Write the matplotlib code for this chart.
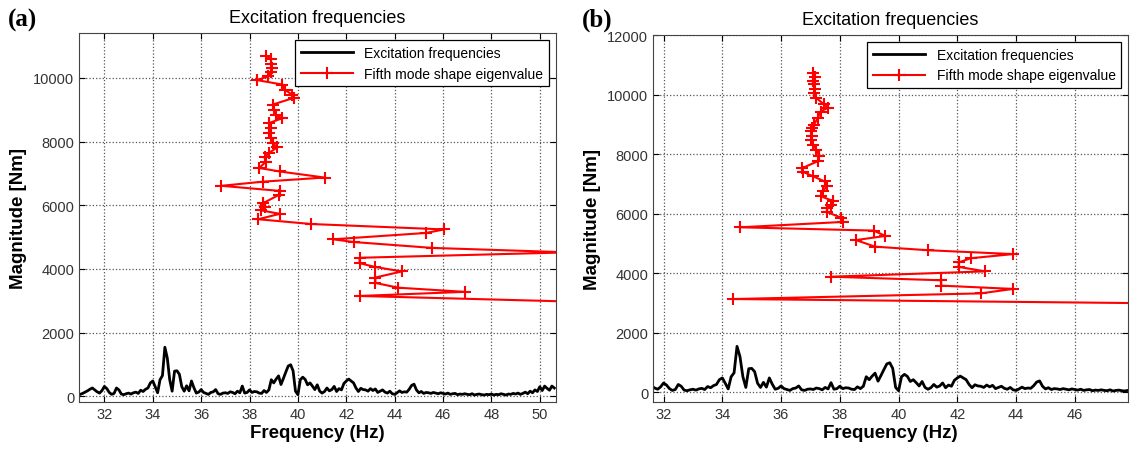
import matplotlib
matplotlib.use('Agg')
import matplotlib.pyplot as plt

plt.rcParams['font.family'] = ['Liberation Sans', 'DejaVu Sans']

# excitation spectrum, sampled every 0.1 Hz from 31.0 to 50.6 Hz
freq = [31.0, 31.1, 31.2, 31.3, 31.4, 31.5, 31.6, 31.7, 31.8, 31.9,
        32.0, 32.1, 32.2, 32.3, 32.4, 32.5, 32.6, 32.7, 32.8, 32.9,
        33.0, 33.1, 33.2, 33.3, 33.4, 33.5, 33.6, 33.7, 33.8, 33.9,
        34.0, 34.1, 34.2, 34.3, 34.4, 34.5, 34.6, 34.7, 34.8, 34.9,
        35.0, 35.1, 35.2, 35.3, 35.4, 35.5, 35.6, 35.7, 35.8, 35.9,
        36.0, 36.1, 36.2, 36.3, 36.4, 36.5, 36.6, 36.7, 36.8, 36.9,
        37.0, 37.1, 37.2, 37.3, 37.4, 37.5, 37.6, 37.7, 37.8, 37.9,
        38.0, 38.1, 38.2, 38.3, 38.4, 38.5, 38.6, 38.7, 38.8, 38.9,
        39.0, 39.1, 39.2, 39.3, 39.4, 39.5, 39.6, 39.7, 39.8, 39.9,
        40.0, 40.1, 40.2, 40.3, 40.4, 40.5, 40.6, 40.7, 40.8, 40.9,
        41.0, 41.1, 41.2, 41.3, 41.4, 41.5, 41.6, 41.7, 41.8, 41.9,
        42.0, 42.1, 42.2, 42.3, 42.4, 42.5, 42.6, 42.7, 42.8, 42.9,
        43.0, 43.1, 43.2, 43.3, 43.4, 43.5, 43.6, 43.7, 43.8, 43.9,
        44.0, 44.1, 44.2, 44.3, 44.4, 44.5, 44.6, 44.7, 44.8, 44.9,
        45.0, 45.1, 45.2, 45.3, 45.4, 45.5, 45.6, 45.7, 45.8, 45.9,
        46.0, 46.1, 46.2, 46.3, 46.4, 46.5, 46.6, 46.7, 46.8, 46.9,
        47.0, 47.1, 47.2, 47.3, 47.4, 47.5, 47.6, 47.7, 47.8, 47.9,
        48.0, 48.1, 48.2, 48.3, 48.4, 48.5, 48.6, 48.7, 48.8, 48.9,
        49.0, 49.1, 49.2, 49.3, 49.4, 49.5, 49.6, 49.7, 49.8, 49.9,
        50.0, 50.1, 50.2, 50.3, 50.4, 50.5, 50.6]
excitation = [60, 90, 130, 170, 220, 260, 200, 140, 100, 180,
              310, 240, 120, 60, 90, 260, 200, 70, 50, 80,
              100, 70, 110, 130, 90, 190, 150, 220, 260, 420,
              480, 300, 110, 520, 650, 1540, 1200, 520, 160, 790,
              800, 690, 300, 160, 330, 170, 480, 270, 100, 130,
              210, 120, 90, 60, 120, 140, 210, 80, 60, 100,
              110, 90, 140, 120, 80, 160, 110, 320, 100, 120,
              200, 120, 150, 140, 100, 90, 180, 120, 200, 520,
              420, 540, 640, 370, 560, 760, 950, 990, 800, 160,
              50, 520, 600, 530, 360, 420, 320, 210, 360, 160,
              100, 150, 260, 170, 210, 310, 150, 240, 200, 400,
              480, 540, 480, 420, 260, 150, 250, 210, 200, 160,
              240, 180, 230, 120, 160, 200, 130, 100, 160, 80,
              60, 110, 170, 120, 140, 130, 220, 340, 380, 200,
              110, 150, 90, 120, 110, 90, 120, 100, 80, 110,
              90, 70, 100, 60, 80, 90, 50, 70, 60, 80,
              60, 50, 80, 40, 60, 70, 50, 40, 60, 50,
              70, 40, 60, 50, 80, 60, 40, 70, 60, 90,
              70, 100, 60, 90, 130, 80, 160, 110, 200, 150,
              300, 180, 320, 250, 190, 320, 260]

# fifth mode eigenvalue track, case (a)
eig_freq_a = [38.70, 38.88, 38.90, 38.93, 38.88, 38.78, 38.31, 39.36, 39.45, 39.77,
              39.82, 38.95, 39.02, 39.09, 39.35, 38.80, 38.90, 38.82, 38.90, 38.95,
              39.15, 38.80, 38.62, 38.68, 38.40, 39.25, 41.10, 38.55, 36.84, 39.25,
              39.20, 38.55, 38.62, 38.48, 39.25, 38.36, 40.55, 46.05, 45.30, 41.45,
              42.30, 45.55, 51.20, 42.55, 42.55, 43.20, 44.30, 43.20, 43.20, 44.15,
              46.90, 42.55, 52.50]
eig_mag_a = [10690, 10580, 10450, 10310, 10180, 10050, 9930, 9790, 9630, 9470,
             9370, 9160, 9000, 8840, 8730, 8580, 8420, 8260, 8110, 7950,
             7820, 7640, 7500, 7370, 7170, 7060, 6870, 6740, 6610, 6450,
             6320, 6060, 5950, 5840, 5730, 5560, 5410, 5240, 5130, 4930,
             4845, 4660, 4520, 4350, 4180, 4060, 3920, 3730, 3560, 3410,
             3280, 3150, 2950]

# fifth mode eigenvalue track, case (b)
eig_freq_b = [37.10, 37.15, 37.08, 37.12, 37.15, 37.12, 37.18, 37.45, 37.60, 37.35,
              37.25, 37.12, 37.05, 37.02, 37.05, 37.02, 37.08, 37.20, 37.30, 37.25,
              36.70, 36.75, 37.10, 37.48, 37.55, 37.42, 37.36, 37.78, 37.70, 37.58,
              37.55, 38.05, 38.10, 34.60, 39.15, 39.55, 38.55, 39.20, 41.00, 43.90,
              42.45, 42.05, 42.05, 42.95, 37.70, 41.45, 41.45, 43.90, 42.80, 34.38,
              52.50]
eig_mag_b = [10730, 10600, 10470, 10340, 10200, 10060, 9900, 9680, 9560, 9430,
             9210, 8990, 8860, 8760, 8600, 8480, 8310, 8150, 7920, 7760,
             7520, 7400, 7250, 7080, 6920, 6750, 6580, 6420, 6300, 6180,
             6060, 5860, 5720, 5540, 5430, 5250, 5110, 4890, 4770, 4640,
             4500, 4360, 4210, 4060, 3880, 3760, 3580, 3470, 3320, 3130,
             2950]

panels = [
    ('(a)', [79 / 1131, 0.1077, 477 / 1131, 0.8164], eig_freq_a, eig_mag_a,
     (30.95, 50.67), (-190, 11400), [32, 34, 36, 38, 40, 42, 44, 46, 48, 50],
     [0, 2000, 4000, 6000, 8000, 10000]),
    ('(b)', [653 / 1131, 0.1077, 475 / 1131, 0.8126], eig_freq_b, eig_mag_b,
     (31.64, 47.81), (-340, 12000), [32, 34, 36, 38, 40, 42, 44, 46],
     [0, 2000, 4000, 6000, 8000, 10000, 12000]),
]

fig = plt.figure(figsize=(11.31, 4.52), dpi=100)

for tag, rect, ef, em, xl, yl, xt, yt in panels:
    ax = fig.add_axes(rect)
    ax.plot(freq, excitation, color='black', lw=2.0, label='Excitation frequencies')
    ax.plot(ef, em, color='red', lw=1.5, marker='+', ms=9, mew=1.5,
            label='Fifth mode shape eigenvalue')
    ax.set_xlim(xl)
    ax.set_ylim(yl)
    ax.set_xticks(xt)
    ax.set_yticks(yt)
    ax.grid(True, linestyle=':', color='#555555', lw=0.9)
    ax.tick_params(direction='in', top=True, right=True, labelsize=10.5,
                   labelcolor='#333333', length=4)
    for s in ax.spines.values():
        s.set_color('#444444')
    ax.set_title('Excitation frequencies', fontsize=13, pad=8)
    ax.set_xlabel('Frequency (Hz)', fontsize=13.5, fontweight='bold', labelpad=2)
    ax.set_ylabel('Magnitude [Nm]', fontsize=13.5, fontweight='bold', labelpad=4)
    leg = ax.legend(loc='upper right', fontsize=10, fancybox=False, edgecolor='black',
                    handlelength=3.8, borderaxespad=0.5, framealpha=1)
    leg.get_frame().set_linewidth(0.9)
    fig.text(rect[0] - 0.063, 0.955, tag, fontsize=18, fontweight='bold',
             family=['Liberation Serif', 'DejaVu Serif'], va='center')

fig.savefig('out.png', dpi=100)
